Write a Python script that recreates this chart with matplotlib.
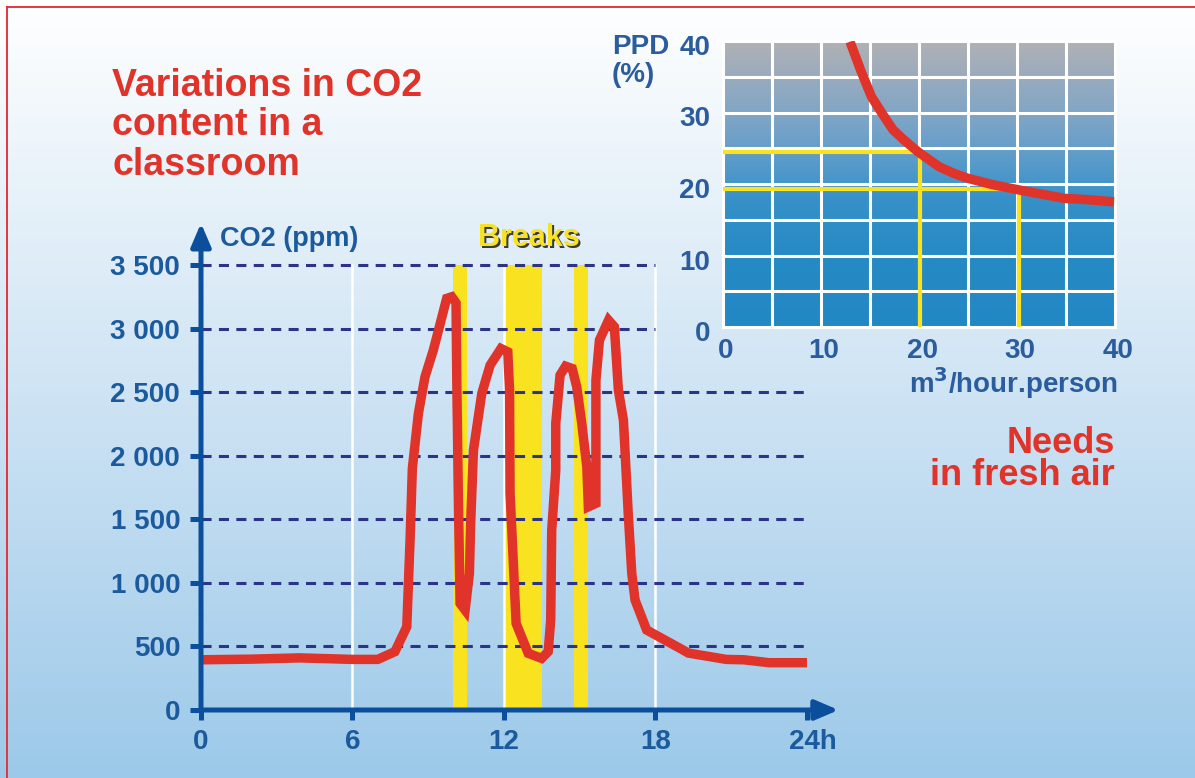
import numpy as np
import matplotlib.pyplot as plt
from matplotlib.colors import LinearSegmentedColormap
from matplotlib.lines import Line2D
import matplotlib.transforms as mtransforms

plt.rcParams['font.family'] = ['Liberation Sans', 'DejaVu Sans']
plt.rcParams['font.weight'] = 'bold'

# main chart data: CO2 in a classroom over a day
hours = [0, 2, 3.9, 6, 7.0, 7.68, 8.15, 8.28, 8.37, 8.61, 8.87, 9.2, 9.73, 9.93,
         10.1, 10.13, 10.19, 10.26, 10.46, 10.63, 10.68, 10.79, 11.12, 11.45,
         11.88, 12.15, 12.22, 12.24, 12.34, 12.48, 12.96, 13.49, 13.75, 13.85,
         13.89, 14.05, 14.05, 14.22, 14.44, 14.7, 14.88, 15.08, 15.28, 15.34,
         15.64, 15.64, 15.78, 16.14, 16.37, 16.53, 16.73, 16.92, 17.06, 17.19,
         17.65, 18.97, 19.3, 20.8, 21.5, 22.5, 24]
co2 = [395, 400, 410, 398, 398, 459, 655, 1337, 1900, 2333, 2620, 2830, 3237, 3250,
       3202, 2594, 1704, 839, 786, 1075, 1468, 2044, 2490, 2712,
       2843, 2817, 2516, 1704, 1284, 681, 446, 406, 459, 708,
       1415, 1887, 2254, 2634, 2704, 2686, 2542, 2254, 1913, 1598,
       1625, 2594, 2909, 3066, 3014, 2516, 2280, 1546, 1075, 865,
       629, 485, 448, 398, 395, 372, 372]
breaks = [(9.99, 10.52), (12.08, 13.5), (14.77, 15.31)]
x_ticks = [0, 6, 12, 18, 24]
x_labels = ['0', '6', '12', '18', '24h']
y_ticks = [0, 500, 1000, 1500, 2000, 2500, 3000, 3500]
y_labels = ['0', '500', '1 000', '1 500', '2 000', '2 500', '3 000', '3 500']

# inset data: PPD vs fresh air rate
airflow = [12.96, 14.05, 15.15, 16.22, 17.34, 18.43, 19.9, 22.07, 23.53, 24.98,
           27.54, 30.09, 34.8, 37.3, 39.9]
ppd = [39.9, 35.9, 32.2, 29.9, 27.6, 26.2, 24.5, 22.4, 21.5, 20.8,
       19.9, 19.2, 18.0, 17.8, 17.5]
mark_air = [20.1, 30.2]
mark_ppd = [24.5, 19.3]
inset_ticks = [0, 10, 20, 30, 40]

red = '#e0332a'
blue_axis = '#0b4f9c'
blue_text = '#1b5a9d'
yellow = '#f9e220'
navy = '#2b3487'

W, H = 1195, 778
fig = plt.figure(figsize=(W / 100, H / 100), dpi=100)

# background gradient
bg = fig.add_axes([0, 0, 1, 1], zorder=0)
bg_cmap = LinearSegmentedColormap.from_list('bg', ['#9cc9e9', '#cfe4f4', '#ffffff'])
bg.imshow(np.linspace(0, 1, 256)[::-1].reshape(-1, 1), aspect='auto', cmap=bg_cmap,
          extent=[0, 1, 0, 1])
bg.axis('off')

# thin red frame on top and left
fig.add_artist(Line2D([7 / W, 1], [1 - 7 / H, 1 - 7 / H], transform=fig.transFigure,
                      color='#e8333c', lw=1.4))
fig.add_artist(Line2D([7 / W, 7 / W], [0, 1 - 7 / H], transform=fig.transFigure,
                      color='#e8333c', lw=1.4))

# ---- main chart ----
ax = fig.add_axes([201 / W, (H - 710) / H, (807 - 201) / W, (710 - 265) / H], zorder=1)
ax.patch.set_alpha(0)
ax.set_xlim(0, 24)
ax.set_ylim(0, 3500)
for s in ax.spines.values():
    s.set_visible(False)

for xv in [6, 12, 18]:
    ax.plot([xv, xv], [0, 3500], color='white', lw=1.8, zorder=1, clip_on=False)
for a, b in breaks:
    ax.axvspan(a, b, ymin=0, ymax=1, color=yellow, lw=0, zorder=2)
for yv in y_ticks[1:]:
    xend = 18 if yv >= 3000 else 24
    ax.plot([0, xend], [yv, yv], color=navy, lw=2.2, dashes=(3.3, 2.4), zorder=3,
            clip_on=False)

ax.plot(hours, co2, color=red, lw=6.8, zorder=5, clip_on=False,
        solid_joinstyle='miter', solid_capstyle='butt')

# axes with arrows
arrow = dict(arrowstyle='-|>,head_length=0.7,head_width=0.3', color=blue_axis, lw=3.6,
             shrinkA=0, shrinkB=0, mutation_scale=20)
ax.annotate('', xy=(0, 3829), xytext=(0, 0), arrowprops=arrow, annotation_clip=False,
            zorder=6)
ax.annotate('', xy=(25.25, 0), xytext=(0, 0), arrowprops=arrow, annotation_clip=False,
            zorder=6)

ax.set_xticks(x_ticks)
ax.set_xticklabels(x_labels)
ax.set_yticks(y_ticks)
ax.set_yticklabels(y_labels)
ax.tick_params(axis='x', length=7, width=3.6, color=blue_axis, pad=7,
               labelsize=20, labelcolor=blue_text)
ax.tick_params(axis='y', length=8, width=3.6, color=blue_axis, pad=7,
               labelsize=20, labelcolor=blue_text)
last = ax.get_xticklabels()[-1]
last.set_transform(last.get_transform() + mtransforms.ScaledTranslation(6 / 100, 0, fig.dpi_scale_trans))

fig.text(220 / W, 1 - 246 / H, 'CO2 (ppm)', color=blue_text, fontsize=19.5,
         fontweight='bold', va='baseline')
fig.text(531 / W, 1 - 248 / H, 'Breaks', color='#3a3a3a', fontsize=22,
         fontweight='bold', ha='center', va='baseline')
fig.text(529 / W, 1 - 246 / H, 'Breaks', color=yellow, fontsize=22,
         fontweight='bold', ha='center', va='baseline')

fig.text(112 / W, 1 - 68 / H, 'Variations in CO2\ncontent in a\nclassroom', color=red,
         fontsize=27, fontweight='bold', va='top', linespacing=1.12)
fig.text(1115 / W, 1 - 426 / H, 'Needs\nin fresh air', color=red, fontsize=26,
         fontweight='bold', va='top', ha='right', multialignment='right',
         linespacing=0.88)

# ---- inset: PPD vs air flow ----
ins = fig.add_axes([723 / W, (H - 327) / H, (1115 - 723) / W, (327 - 41) / H], zorder=2)
ins_cmap = LinearSegmentedColormap.from_list(
    'ins', [(0, '#2288c3'), (0.25, '#268ac4'), (0.45, '#3791c8'), (0.55, '#5199ca'),
            (0.7, '#78a3c7'), (0.85, '#94aac0'), (1, '#b1b1b4')])
ins.imshow(np.linspace(0, 1, 256)[::-1].reshape(-1, 1), aspect='auto', cmap=ins_cmap,
           extent=[0, 40, 0, 40], zorder=0)
ins.set_xlim(0, 40)
ins.set_ylim(0, 40)
for s in ins.spines.values():
    s.set_visible(False)
for v in range(0, 45, 5):
    ins.plot([v, v], [0, 40], color='white', lw=2.2, zorder=1, clip_on=False)
    ins.plot([0, 40], [v, v], color='white', lw=2.2, zorder=1, clip_on=False)
ins.plot(airflow, ppd, color=red, lw=6.8, zorder=3, solid_capstyle='butt')
for xa, yp in zip(mark_air, mark_ppd):
    ins.plot([0, xa, xa], [yp, yp, 0], color=yellow, lw=3.0, zorder=2)

ins.set_xticks(inset_ticks)
ins.set_yticks(inset_ticks)
ins.tick_params(length=0, labelsize=20, labelcolor='#2a5c9e', pad=8)
ins.tick_params(axis='y', pad=9)
for lab in ins.get_yticklabels():
    lab.set_transform(lab.get_transform() + mtransforms.ScaledTranslation(0, -4 / 100, fig.dpi_scale_trans))
for lab in ins.get_xticklabels():
    lab.set_transform(lab.get_transform() + mtransforms.ScaledTranslation(3 / 100, 0, fig.dpi_scale_trans))

fig.text(612 / W, 1 - 34 / H, 'PPD\n(%)', color='#2a5c9e', fontsize=20,
         fontweight='bold', va='top', linespacing=1.08)
fig.text(1118 / W, 1 - 393 / H, r'm$^\mathbf{3}$/hour.person', color='#2a5c9e',
         fontsize=20, fontweight='bold', ha='right', va='baseline')

fig.savefig('out.png', dpi=100)
